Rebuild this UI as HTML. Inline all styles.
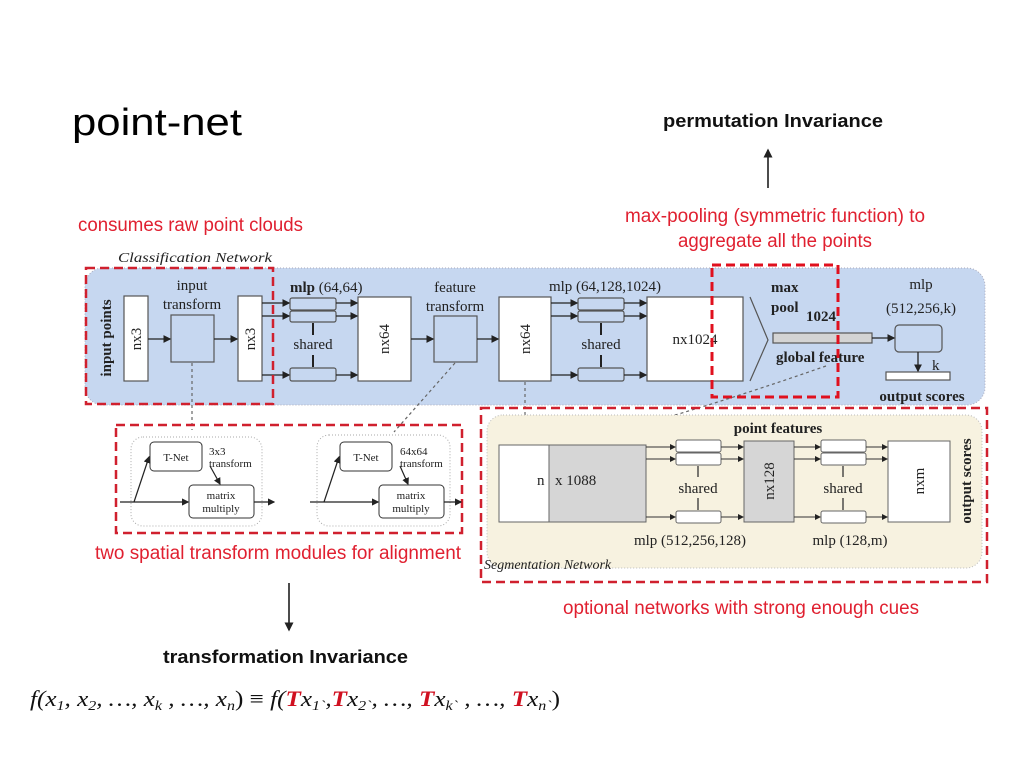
<!DOCTYPE html>
<html><head><meta charset="utf-8"><style>
html,body{margin:0;padding:0;background:#fff;}
svg{display:block;}
.s{font-family:"Liberation Serif",serif;fill:#222;}
.r{font-family:"Liberation Sans",sans-serif;fill:#e02030;}
.b{font-family:"Liberation Sans",sans-serif;font-weight:bold;fill:#111;}
</style></head><body>
<svg width="1024" height="768" viewBox="0 0 1024 768" xmlns="http://www.w3.org/2000/svg">
<defs>
<marker id="a" markerWidth="6" markerHeight="6" refX="5" refY="3" orient="auto"><path d="M0,0 L6,3 L0,6z" fill="#222"/></marker>
<marker id="g" markerWidth="6" markerHeight="6" refX="5" refY="3" orient="auto"><path d="M0,0 L6,3 L0,6z" fill="#444"/></marker>
</defs>
<text x="72" y="135" font-family="Liberation Sans,sans-serif" font-size="38" fill="#000" textLength="170" lengthAdjust="spacingAndGlyphs">point-net</text>
<text x="663" y="127" class="b" font-size="18" textLength="220" lengthAdjust="spacingAndGlyphs">permutation Invariance</text>
<line x1="768" y1="188" x2="768" y2="150" stroke="#111" stroke-width="1.5" marker-end="url(#a)"/>
<text x="78" y="231" class="r" font-size="19" textLength="225" lengthAdjust="spacingAndGlyphs">consumes raw point clouds</text>
<text x="625" y="222" class="r" font-size="19" textLength="300" lengthAdjust="spacingAndGlyphs">max-pooling (symmetric function) to</text>
<text x="678" y="247" class="r" font-size="19" textLength="194" lengthAdjust="spacingAndGlyphs">aggregate all the points</text>
<text x="118" y="262" class="s" font-size="14" font-style="italic" textLength="154" lengthAdjust="spacingAndGlyphs">Classification Network</text>

<rect x="85" y="268" width="900" height="137" rx="18" fill="#c6d7f0" stroke="#aab" stroke-dasharray="1,2"/>
<g stroke="#555" stroke-width="1.2">
<rect x="124" y="296" width="24" height="85" fill="#fff"/>
<rect x="171" y="315" width="43" height="47" fill="#c6d7f0"/>
<rect x="238" y="296" width="24" height="85" fill="#fff"/>
<rect x="290" y="298" width="46" height="12" rx="2" fill="#c6d7f0"/>
<rect x="290" y="311" width="46" height="11" rx="2" fill="#c6d7f0"/>
<rect x="290" y="368" width="46" height="13" rx="2" fill="#c6d7f0"/>
<rect x="358" y="297" width="53" height="84" fill="#fff"/>
<rect x="434" y="316" width="43" height="46" fill="#c6d7f0"/>
<rect x="499" y="297" width="52" height="84" fill="#fff"/>
<rect x="578" y="298" width="46" height="12" rx="2" fill="#c6d7f0"/>
<rect x="578" y="311" width="46" height="11" rx="2" fill="#c6d7f0"/>
<rect x="578" y="368" width="46" height="13" rx="2" fill="#c6d7f0"/>
<rect x="647" y="297" width="96" height="84" fill="#fff"/>
<polyline points="750,297 768,340 750,381" fill="none"/>
<rect x="773" y="333" width="99" height="10" fill="#d4d4d4"/>
<rect x="895" y="325" width="47" height="27" rx="4" fill="#c6d7f0"/>
<rect x="886" y="372" width="64" height="8" fill="#fff"/>
</g>
<g stroke="#222" stroke-width="1.3" marker-end="url(#a)">
<line x1="148" y1="339" x2="170" y2="339"/>
<line x1="214" y1="339" x2="237" y2="339"/>
<line x1="262" y1="303" x2="289" y2="303"/><line x1="262" y1="316" x2="289" y2="316"/><line x1="262" y1="375" x2="289" y2="375"/>
<line x1="336" y1="303" x2="357" y2="303"/><line x1="336" y1="316" x2="357" y2="316"/><line x1="336" y1="375" x2="357" y2="375"/>
<line x1="411" y1="339" x2="433" y2="339"/>
<line x1="477" y1="339" x2="498" y2="339"/>
<line x1="551" y1="303" x2="577" y2="303"/><line x1="551" y1="316" x2="577" y2="316"/><line x1="551" y1="375" x2="577" y2="375"/>
<line x1="624" y1="303" x2="646" y2="303"/><line x1="624" y1="316" x2="646" y2="316"/><line x1="624" y1="375" x2="646" y2="375"/>
<line x1="872" y1="338" x2="894" y2="338"/>
<line x1="918" y1="352" x2="918" y2="371"/>
</g>
<g stroke="#222" stroke-width="2"><line x1="313" y1="323" x2="313" y2="335"/><line x1="313" y1="355" x2="313" y2="367"/>
<line x1="601" y1="323" x2="601" y2="335"/><line x1="601" y1="355" x2="601" y2="367"/></g>
<g class="s" font-size="15">
<text x="136" y="339" transform="rotate(-90 136 339)" text-anchor="middle" dy="5">nx3</text>
<text x="250" y="339" transform="rotate(-90 250 339)" text-anchor="middle" dy="5">nx3</text>
<text x="384" y="339" transform="rotate(-90 384 339)" text-anchor="middle" dy="5">nx64</text>
<text x="525" y="339" transform="rotate(-90 525 339)" text-anchor="middle" dy="5">nx64</text>
<text x="106" y="338" transform="rotate(-90 106 338)" text-anchor="middle" dy="5" font-weight="bold">input points</text>
<text x="192" y="290" text-anchor="middle">input</text><text x="192" y="309" text-anchor="middle">transform</text>
<text x="455" y="292" text-anchor="middle">feature</text><text x="455" y="311" text-anchor="middle">transform</text>
<text x="290" y="292"><tspan font-weight="bold">mlp</tspan> (64,64)</text>
<text x="313" y="349" text-anchor="middle">shared</text>
<text x="605" y="291" text-anchor="middle">mlp (64,128,1024)</text>
<text x="601" y="349" text-anchor="middle">shared</text>
<text x="695" y="344" text-anchor="middle">nx1024</text>
<text x="771" y="292" font-weight="bold">max</text><text x="771" y="312" font-weight="bold">pool</text>
<text x="806" y="321" font-weight="bold">1024</text>
<text x="776" y="362" font-weight="bold">global feature</text>
<text x="921" y="289" text-anchor="middle">mlp</text><text x="921" y="313" text-anchor="middle">(512,256,k)</text>
<text x="932" y="370">k</text>
<text x="922" y="401" text-anchor="middle" font-weight="bold">output scores</text>
</g>
<rect x="86" y="268" width="187" height="136" fill="none" stroke="#d0202e" stroke-width="2.5" stroke-dasharray="9,5"/>
<rect x="712" y="265" width="126" height="132" fill="none" stroke="#e0101e" stroke-width="3" stroke-dasharray="9,5"/>

<g stroke="#666" stroke-width="1.2" stroke-dasharray="3,3" fill="none">
<line x1="192" y1="363" x2="192" y2="430"/>
<line x1="455" y1="363" x2="394" y2="432"/>
<line x1="525" y1="382" x2="525" y2="435" marker-end="url(#g)"/>
<path d="M826,366 Q700,410 600,436" marker-end="url(#g)"/>
</g>

<rect x="116" y="425" width="346" height="108" fill="none" stroke="#d0202e" stroke-width="2.5" stroke-dasharray="9,5"/>
<g stroke="#aaa" stroke-dasharray="1,2" fill="none"><rect x="131" y="437" width="131" height="89" rx="12"/><rect x="317" y="435" width="133" height="91" rx="12"/></g>
<g stroke="#333" stroke-width="1" fill="#fff">
<rect x="150" y="442" width="52" height="29" rx="4"/><rect x="189" y="485" width="65" height="33" rx="4"/>
<rect x="340" y="442" width="52" height="29" rx="4"/><rect x="379" y="485" width="65" height="33" rx="4"/>
</g>
<g stroke="#222" stroke-width="1.2" marker-end="url(#a)">
<line x1="120" y1="502" x2="188" y2="502"/><line x1="134" y1="502" x2="149" y2="457"/><line x1="210" y1="466" x2="220" y2="484"/><line x1="254" y1="502" x2="274" y2="502"/>
<line x1="310" y1="502" x2="378" y2="502"/><line x1="324" y1="502" x2="339" y2="457"/><line x1="400" y1="466" x2="408" y2="484"/><line x1="444" y1="502" x2="461" y2="502"/>
</g>
<g class="s" font-size="11">
<text x="176" y="461" text-anchor="middle">T-Net</text><text x="221" y="499" text-anchor="middle">matrix</text><text x="221" y="512" text-anchor="middle">multiply</text>
<text x="366" y="461" text-anchor="middle">T-Net</text><text x="411" y="499" text-anchor="middle">matrix</text><text x="411" y="512" text-anchor="middle">multiply</text>
<text x="209" y="455">3x3</text><text x="209" y="467">transform</text>
<text x="400" y="455">64x64</text><text x="400" y="467">transform</text>
</g>
<text x="95" y="559" class="r" font-size="19" textLength="366" lengthAdjust="spacingAndGlyphs">two spatial transform modules for alignment</text>

<rect x="481" y="408" width="506" height="174" fill="none" stroke="#d0202e" stroke-width="2.5" stroke-dasharray="9,5"/>
<rect x="487" y="415" width="495" height="153" rx="16" fill="#f7f2e0" stroke="#bbb" stroke-dasharray="1,2"/>
<g stroke="#666" stroke-width="1">
<rect x="499" y="445" width="50" height="77" fill="#fff"/>
<rect x="549" y="445" width="97" height="77" fill="#d6d6d6"/>
<rect x="676" y="440" width="45" height="12" rx="2" fill="#fff"/><rect x="676" y="453" width="45" height="12" rx="2" fill="#fff"/><rect x="676" y="511" width="45" height="12" rx="2" fill="#fff"/>
<rect x="744" y="441" width="50" height="81" fill="#d6d6d6"/>
<rect x="821" y="440" width="45" height="12" rx="2" fill="#fff"/><rect x="821" y="453" width="45" height="12" rx="2" fill="#fff"/><rect x="821" y="511" width="45" height="12" rx="2" fill="#fff"/>
<rect x="888" y="441" width="62" height="81" fill="#fff"/>
</g>
<g stroke="#333" stroke-width="1" marker-end="url(#a)">
<line x1="646" y1="447" x2="675" y2="447"/><line x1="646" y1="459" x2="675" y2="459"/><line x1="646" y1="517" x2="675" y2="517"/>
<line x1="721" y1="447" x2="743" y2="447"/><line x1="721" y1="459" x2="743" y2="459"/><line x1="721" y1="517" x2="743" y2="517"/>
<line x1="794" y1="447" x2="820" y2="447"/><line x1="794" y1="459" x2="820" y2="459"/><line x1="794" y1="517" x2="820" y2="517"/>
<line x1="866" y1="447" x2="887" y2="447"/><line x1="866" y1="459" x2="887" y2="459"/><line x1="866" y1="517" x2="887" y2="517"/>
</g>
<g stroke="#333" stroke-width="1.3"><line x1="698" y1="466" x2="698" y2="477"/><line x1="698" y1="498" x2="698" y2="510"/><line x1="843" y1="466" x2="843" y2="477"/><line x1="843" y1="498" x2="843" y2="510"/></g>
<g class="s" font-size="15">
<text x="778" y="433" text-anchor="middle" font-weight="bold">point features</text>
<text x="537" y="485">n</text><text x="555" y="485">x 1088</text>
<text x="698" y="493" text-anchor="middle">shared</text><text x="843" y="493" text-anchor="middle">shared</text>
<text x="769" y="481" transform="rotate(-90 769 481)" text-anchor="middle" dy="5">nx128</text>
<text x="919" y="481" transform="rotate(-90 919 481)" text-anchor="middle" dy="5">nxm</text>
<text x="966" y="481" transform="rotate(-90 966 481)" text-anchor="middle" dy="5" font-weight="bold">output scores</text>
<text x="690" y="545" text-anchor="middle">mlp (512,256,128)</text>
<text x="850" y="545" text-anchor="middle">mlp (128,m)</text>
<text x="484" y="569" font-style="italic" font-size="14">Segmentation Network</text>
</g>
<text x="563" y="614" class="r" font-size="19" textLength="356" lengthAdjust="spacingAndGlyphs">optional networks with strong enough cues</text>

<line x1="289" y1="583" x2="289" y2="630" stroke="#111" stroke-width="1.5" marker-end="url(#a)"/>
<text x="163" y="663" class="b" font-size="18" textLength="245" lengthAdjust="spacingAndGlyphs">transformation Invariance</text>
<text x="30" y="706" font-family="Liberation Serif,serif" font-style="italic" font-size="22" fill="#111" textLength="530" lengthAdjust="spacingAndGlyphs">f(x<tspan font-size="14" dy="4">1</tspan><tspan dy="-4">, x</tspan><tspan font-size="14" dy="4">2</tspan><tspan dy="-4">, …, x</tspan><tspan font-size="14" dy="4">k</tspan><tspan dy="-4"> , …, x</tspan><tspan font-size="14" dy="4">n</tspan><tspan dy="-4" font-style="normal">) ≡ </tspan>f(<tspan fill="#d01020" font-weight="bold">T</tspan>x<tspan font-size="14" dy="4">1`</tspan><tspan dy="-4">,</tspan><tspan fill="#d01020" font-weight="bold">T</tspan>x<tspan font-size="14" dy="4">2`</tspan><tspan dy="-4">, …, </tspan><tspan fill="#d01020" font-weight="bold">T</tspan>x<tspan font-size="14" dy="4">k`</tspan><tspan dy="-4"> , …, </tspan><tspan fill="#d01020" font-weight="bold">T</tspan>x<tspan font-size="14" dy="4">n`</tspan><tspan dy="-4" font-style="normal">)</tspan></text>
</svg>
</body></html>
